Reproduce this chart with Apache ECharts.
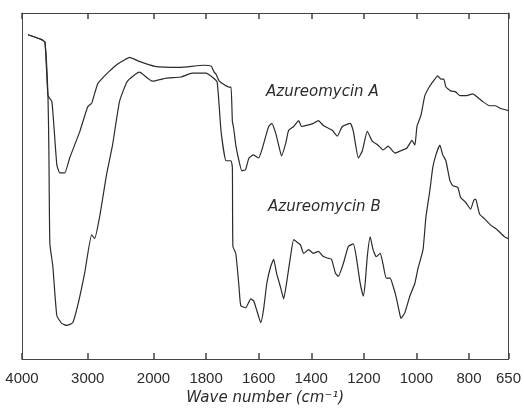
<!DOCTYPE html>
<html>
<head>
<meta charset="utf-8">
<script src="https://cdn.jsdelivr.net/npm/echarts@6/dist/echarts.min.js"></script>
<style>
  html, body { margin: 0; padding: 0; background: #fff; }
  #chart { width: 524px; height: 411px; }
</style>
</head>
<body>
<div id="chart"></div>
<script>
// wave number ticks along the bottom (scale changes at 2000 cm-1)
const tickWaves = [4000, 3000, 2000, 1800, 1600, 1400, 1200, 1000, 800, 650];

// Azureomycin A: wave number (cm-1) and transmittance (%)
const waveA = [3909, 3700, 3650, 3605, 3545, 3470, 3425, 3350, 3275, 3120, 3000, 2940, 2930, 2850, 2790, 2670, 2550, 2455, 2365, 2215,
  1995, 1900, 1808, 1780, 1770, 1762, 1750, 1713, 1705, 1700, 1695, 1687, 1675, 1664, 1650, 1637, 1620, 1600, 1588, 1573,
  1562, 1550, 1535, 1524, 1513, 1497, 1486, 1467, 1448, 1437, 1418, 1392, 1373, 1354, 1335, 1320, 1301, 1282, 1252, 1240,
  1221, 1206, 1187, 1168, 1146, 1127, 1108, 1081, 1062, 1036, 1017, 1006, 998, 983, 968, 949, 930, 919, 907, 896,
  888, 870, 851, 835, 813, 786, 775, 748, 722, 699, 680, 650];
const transA = [93.7, 92.3, 91.5, 76.1, 74.4, 56.1, 53.8, 53.8, 58.1, 65.8, 72.9, 73.8, 73.8, 79.5, 80.9, 83.2, 85.2, 86.3, 87.2, 86.0,
  84.6, 84.3, 84.9, 84.6, 83.0, 82.3, 80.3, 78.6, 78.6, 68.7, 66.7, 61.8, 57.3, 54.4, 54.7, 58.1, 59.0, 58.1, 60.4, 64.4,
  67.2, 68.1, 65.2, 61.8, 58.7, 62.4, 66.1, 67.2, 68.9, 67.2, 67.5, 68.1, 68.9, 67.5, 66.7, 66.1, 64.4, 67.2, 68.1, 65.8,
  58.1, 60.1, 65.8, 63.0, 61.8, 60.4, 61.5, 59.5, 60.1, 61.0, 63.2, 61.8, 67.2, 70.4, 76.1, 78.9, 80.9, 81.8, 80.9, 80.9,
  78.6, 77.5, 77.2, 76.1, 76.1, 76.6, 76.1, 74.4, 73.2, 73.2, 72.4, 71.8];

// Azureomycin B: wave number (cm-1) and transmittance (%)
const waveB = [3909, 3700, 3650, 3605, 3591, 3576, 3531, 3470, 3395, 3319, 3228, 3153, 3047, 2941, 2895, 2820, 2714, 2623, 2517, 2396,
  2215, 2018, 1951, 1895, 1853, 1800, 1777, 1758, 1743, 1724, 1705, 1700, 1698, 1687, 1675, 1668, 1649, 1630, 1619, 1607,
  1592, 1581, 1569, 1554, 1543, 1532, 1516, 1505, 1494, 1479, 1467, 1456, 1441, 1429, 1410, 1392, 1373, 1354, 1335, 1323,
  1308, 1297, 1278, 1259, 1240, 1229, 1214, 1202, 1195, 1187, 1176, 1165, 1153, 1138, 1127, 1115, 1100, 1089, 1078, 1062,
  1059, 1044, 1025, 1006, 994, 975, 964, 949, 938, 926, 911, 900, 888, 873, 862, 843, 832, 813, 794, 782,
  775, 760, 741, 718, 692, 665, 650];
const transB = [93.7, 92.3, 91.5, 76.1, 60.1, 33.3, 26.8, 12.5, 10.3, 9.7, 10.5, 15.4, 24.8, 35.9, 34.8, 41.0, 53.3, 61.8, 74.4, 80.3,
  82.9, 80.3, 81.2, 81.5, 82.6, 82.6, 81.5, 80.1, 65.8, 57.3, 57.3, 55.3, 32.5, 30.5, 21.1, 15.4, 14.8, 17.4, 16.8, 14.0,
  10.5, 14.5, 21.9, 26.8, 28.8, 24.8, 20.5, 17.4, 21.9, 29.6, 34.5, 33.9, 33.0, 30.5, 31.6, 30.5, 31.1, 29.6, 29.1, 28.8,
  24.8, 23.9, 27.6, 32.5, 33.3, 29.6, 21.9, 18.2, 21.9, 29.6, 35.3, 31.6, 29.6, 30.5, 27.4, 23.4, 23.4, 21.1, 18.2, 12.5,
  11.7, 13.4, 18.2, 21.9, 26.2, 31.6, 41.0, 48.7, 55.3, 59.0, 61.8, 59.0, 57.3, 51.6, 50.1, 49.6, 46.7, 45.3, 43.3, 45.9,
  46.2, 41.9, 40.5, 38.7, 37.3, 35.3, 34.8];

// chart paper: 4000-2000 is compressed 4x compared with 2000-650
const toPos = (w) => (w >= 2000 ? (4000 - w) / 4 : 500 + (2000 - w));
const fromPos = (p) => (p <= 500 ? 4000 - 4 * p : 2500 - p);

const INK = '#2b2b2b';
const FRAME = '#444';

const pairs = (waves, vals) => waves.map((w, i) => [toPos(w), vals[i]]);
const tickPos = tickWaves.map(toPos);

const frameY = (position) => ({
  type: 'value',
  min: 0,
  max: 100,
  position,
  splitLine: { show: false },
  axisLine: { show: true, onZero: false, lineStyle: { color: FRAME } },
  axisTick: { show: false },
  axisLabel: { show: false }
});

const chart = echarts.init(document.getElementById('chart'));

chart.setOption({
  animation: false,
  grid: { left: 22, right: 13, top: 13, bottom: 47 },
  xAxis: [
    {
      type: 'value',
      min: 0,
      max: 1850,
      position: 'bottom',
      splitLine: { show: false },
      axisLine: { show: true, onZero: false, lineStyle: { color: FRAME } },
      axisTick: { show: true, inside: true, length: 6, customValues: tickPos, lineStyle: { color: FRAME, width: 1.5 } },
      axisLabel: {
        customValues: tickPos,
        margin: 12,
        color: INK,
        fontFamily: 'Liberation Sans',
        fontSize: 15,
        formatter: (v) => String(Math.round(fromPos(v)))
      },
      name: 'Wave number (cm⁻¹)',
      nameLocation: 'middle',
      nameGap: 32,
      nameTextStyle: {
        color: INK,
        fontFamily: 'DejaVu Sans',
        fontStyle: 'italic',
        fontSize: 15
      }
    },
    {
      type: 'value',
      min: 0,
      max: 1850,
      position: 'top',
      splitLine: { show: false },
      axisLine: { show: true, onZero: false, lineStyle: { color: FRAME } },
      axisTick: { show: true, inside: true, length: 6, customValues: tickPos, lineStyle: { color: FRAME, width: 1.5 } },
      axisLabel: { show: false }
    }
  ],
  yAxis: [frameY('left'), frameY('right')],
  graphic: [
    {
      type: 'text', left: 266, top: 85,
      style: {
        text: 'Azureomycin A', fill: INK,
        font: 'italic 15px "DejaVu Sans"'
      }
    },
    {
      type: 'text', left: 268, top: 200,
      style: {
        text: 'Azureomycin B', fill: INK,
        font: 'italic 15px "DejaVu Sans"'
      }
    }
  ],
  series: [
    {
      name: 'Azureomycin A',
      type: 'line',
      showSymbol: false,
      smooth: 0.15,
      lineStyle: { color: INK, width: 1.2 },
      data: pairs(waveA, transA)
    },
    {
      name: 'Azureomycin B',
      type: 'line',
      showSymbol: false,
      smooth: 0.15,
      lineStyle: { color: INK, width: 1.2 },
      data: pairs(waveB, transB)
    }
  ]
});
</script>
</body>
</html>
